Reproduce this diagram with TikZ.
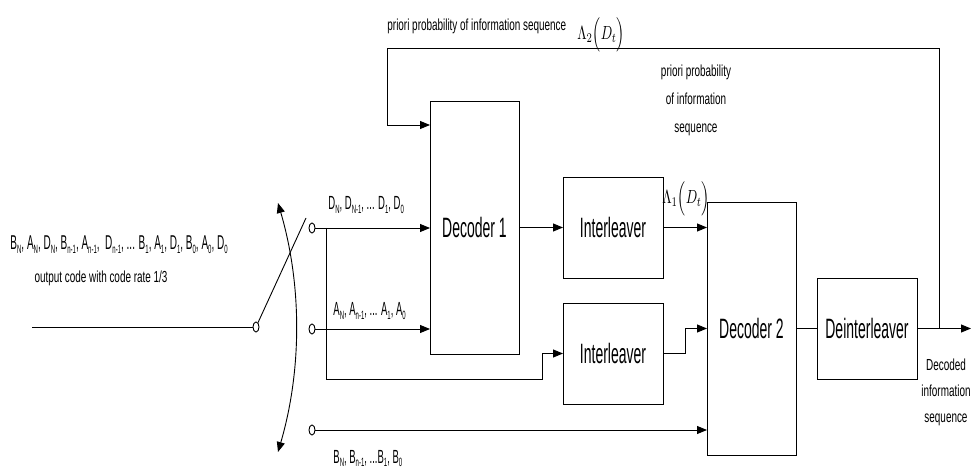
\documentclass[tikz,border=0pt]{standalone}
\usepackage{fontspec}
\setmainfont{Liberation Sans}
\newfontfamily\boxfont{Liberation Sans}[FakeStretch=0.5]
\newfontfamily\smallfont{Liberation Sans}[FakeStretch=0.62]
\usetikzlibrary{arrows.meta,shapes.geometric}
\newcommand{\sbx}[2]{#1\raisebox{-0.35ex}{\fontsize{12}{12}\selectfont #2}}
\begin{document}
\begin{tikzpicture}[x=1pt,y=-1pt,line width=0.9pt,
  blk/.style={draw, inner sep=0pt, outer sep=0pt, font={\boxfont\fontsize{28}{30}\selectfont}},
  term/.style={draw, ellipse, minimum width=6pt, minimum height=10pt, inner sep=0pt, fill=white},
  arr/.style={-{Triangle[length=10pt,width=8pt]}},
  darr/.style={{Triangle[length=10pt,width=8pt]}-{Triangle[length=10pt,width=8pt]}},
  lbl/.style={inner sep=0pt, font={\boxfont\fontsize{19}{19}\selectfont}},
  sml/.style={inner sep=0pt, align=center, font={\smallfont\fontsize{16}{28}\selectfont}},
  mth/.style={inner sep=0pt, xscale=1.35, yscale=1.9}]
\useasboundingbox (0,0) rectangle (972,470);

% blocks
\node[blk, minimum width=89pt, minimum height=253pt] (dec1) at (474.5,227.5) {Decoder 1};
\node[blk, minimum width=100pt, minimum height=101pt] (int1) at (613,227.5) {Interleaver};
\node[blk, minimum width=100pt, minimum height=101pt] (int2) at (613,353.5) {Interleaver};
\node[blk, minimum width=89pt, minimum height=253pt] (dec2) at (751.5,328.5) {Decoder 2};
\node[blk, minimum width=100pt, minimum height=101pt] (deint) at (867,328.5) {Deinterleaver};

% switch
\coordinate (inL) at (32,327);
\node[term] (c0) at (256,327) {};
\node[term] (c1) at (312,228) {};
\node[term] (c2) at (312,329) {};
\node[term] (c3) at (312,430) {};
\coordinate (blade) at (306,218);
\coordinate (arcT) at (278,203);
\coordinate (arcB) at (278,452);
\draw (inL) -- (c0);
\draw (c0) -- (blade);
\draw[darr] (arcT) .. controls (302,285) and (302,370) .. (arcB);

% signal lines
\draw[arr] (c1) -- (c1 -| dec1.west);
\draw[arr] (c2) -- (c2 -| dec1.west);
\draw[arr] (c3) -- (c3 -| dec2.west);
\coordinate (br) at (326,228);
\coordinate (br2) at (542,379);
\draw[arr] (br) |- (br2) |- (int2.west);
\draw[arr] (dec1.east) -- (int1.west);
\draw[arr] (int1.east) -- (int1.east -| dec2.west);
\coordinate (j2) at (685,353.5);
\draw[arr] (int2.east) -- (j2) |- (dec2.west);
\draw (dec2.east) -- (deint.west);
\coordinate (out) at (971,328.5);
\draw[arr] (deint.east) -- (out);

% feedback
\coordinate (fb) at (939,328.5);
\coordinate (fbtop) at (939,48);
\coordinate (fbleft) at (387,48);
\coordinate (fbin) at (387,125);
\draw[arr] (fb) -- (fbtop) -- (fbleft) -- (fbin) -- (fbin -| dec1.west);

% labels
\node[lbl, anchor=base west] (dlab) at (328,210) {\sbx{D}{N}, \sbx{D}{N-1}, ... \sbx{D}{1}, \sbx{D}{0}};
\node[lbl, anchor=base west] (alab) at (333,316) {\sbx{A}{N}, \sbx{A}{n-1}, ... \sbx{A}{1}, \sbx{A}{0}};
\node[lbl, anchor=base west] (blab) at (333,463) {\sbx{B}{N}, \sbx{B}{n-1}, ...\sbx{B}{1}, \sbx{B}{0}};
\node[lbl, anchor=base west, font={\boxfont\fontsize{20}{20}\selectfont}] (inlab) at (10,250) {\sbx{B}{N}, \sbx{A}{N}, \sbx{D}{N}, \sbx{B}{n-1}, \sbx{A}{n-1}, \ \sbx{D}{n-1}, ... \sbx{B}{1}, \sbx{A}{1}, \sbx{D}{1}, \sbx{B}{0}, \sbx{A}{0}, \sbx{D}{0}};
\node[sml] (rate) at (101,278) {output code with code rate 1/3};
\node[sml, anchor=base west] (toplab) at (387,31) {priori probability of information sequence};
\node[mth] (lam2) at (601,35) {$\Lambda_2\Bigl(D_t\Bigr)$};
\node[mth] (lam1) at (686,199) {$\Lambda_1\Bigl(D_t\Bigr)$};
\node[sml] (prlab) at (696,100) {priori probability\\of information\\sequence};
\node[sml, font={\smallfont\fontsize{16}{26}\selectfont}] (declab) at (946,392) {Decoded\\information\\sequence};
\end{tikzpicture}
\end{document}
